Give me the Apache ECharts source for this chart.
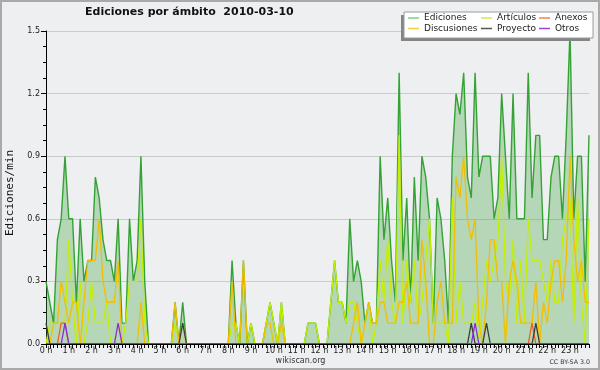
<!DOCTYPE html>
<html>
<head>
<meta charset="utf-8">
<script src="https://cdn.jsdelivr.net/npm/echarts@6/dist/echarts.min.js"></script>
<style>
html,body{margin:0;padding:0;background:#eeeff1;}
#chart{width:600px;height:370px;}
</style>
</head>
<body>
<div id="chart"></div>
<script>
// ---- data (10-minute slots, 0:00 .. 23:50), values in edits/min ----
const hourLabels = ['0 h','1 h','2 h','3 h','4 h','5 h','6 h','7 h','8 h','9 h','10 h','11 h',
  '12 h','13 h','14 h','15 h','16 h','17 h','18 h','19 h','20 h','21 h','22 h','23 h'];
const yTicks = [0, 0.3, 0.6, 0.9, 1.2, 1.5];

const ediciones = [
  0.3,0.2,0.1,0.5,0.6,0.9,0.6,0.6,0.2,0.6,
  0.3,0.4,0.4,0.8,0.7,0.5,0.4,0.4,0.3,0.6,
  0.1,0.1,0.6,0.3,0.4,0.9,0.3,0,0,0,
  0,0,0,0,0.2,0,0.2,0,0,0,
  0,0,0,0,0,0,0,0,0,0.4,
  0.1,0,0.4,0,0.1,0,0,0,0.1,0.2,
  0.1,0,0.2,0,0,0,0,0,0,0.1,
  0.1,0.1,0,0,0,0.2,0.4,0.2,0.2,0.1,
  0.6,0.3,0.4,0.3,0.1,0.2,0.1,0.1,0.9,0.5,
  0.7,0.4,0.2,1.3,0.4,0.7,0.2,0.8,0.4,0.9,
  0.8,0.6,0.1,0.7,0.6,0.4,0.1,0.9,1.2,1.1,
  1.3,0.8,0.7,1.3,0.8,0.9,0.9,0.9,0.6,0.7,
  1.2,0.9,0.6,1.2,0.6,0.6,0.6,1.3,0.7,1.0,
  1.0,0.5,0.5,0.8,0.9,0.9,0.6,1.0,1.5,0.6,
  0.9,0.9,0.3,1.0
];
const articulos = [
  0,0.1,0.1,0.1,0.1,0.1,0.5,0.2,0,0.3,
  0,0.1,0.3,0.1,0.1,0.1,0.2,0,0,0.1,
  0,0.1,0.3,0.3,0.3,0.6,0.1,0,0,0,
  0,0,0,0,0.1,0,0,0,0,0,
  0,0,0,0,0,0,0,0,0,0.1,
  0.1,0,0,0,0.1,0,0,0,0.1,0.2,
  0.1,0,0.2,0,0,0,0,0,0,0.1,
  0.1,0.1,0,0,0,0.2,0.4,0.2,0.2,0.1,
  0.2,0.2,0.1,0,0.1,0.2,0,0.1,0.4,0.2,
  0.5,0.2,0.1,1.0,0.1,0.4,0.2,0.4,0.1,0.2,
  0.4,0.6,0.1,0.1,0.1,0.1,0,0.7,0.1,0.3,
  0.1,0.1,0.1,0.2,0,0.2,0.4,0.3,0.4,0.5,
  0.9,0.3,0.2,0.5,0.1,0.4,0.1,0.6,0.4,0.4,
  0.4,0.3,0.2,0.4,0.2,0.2,0.5,0.6,0.7,0.1,
  0.7,0.2,0,0.6
];
const discusiones = [
  0,0,0.1,0.1,0.3,0.2,0.1,0.2,0.2,0,
  0.2,0.4,0.4,0.4,0.6,0.3,0.2,0.2,0.2,0.4,
  0,0,0,0,0,0.2,0,0,0,0,
  0,0,0,0,0.2,0,0.1,0,0,0,
  0,0,0,0,0,0,0,0,0,0.3,
  0,0,0.4,0,0,0,0,0,0.1,0.1,
  0,0,0.1,0,0,0,0,0,0,0,
  0,0,0,0,0,0,0,0,0,0,
  0,0.1,0.2,0,0.1,0.2,0.1,0.1,0.2,0.2,
  0.1,0.1,0.1,0.2,0.2,0.3,0.1,0.1,0.1,0.5,
  0.3,0,0,0.2,0.3,0.1,0.1,0.1,0.8,0.7,
  0.9,0.6,0.5,0.6,0.1,0,0.2,0.5,0.5,0.3,
  0.3,0,0.3,0.4,0.3,0.1,0.1,0.1,0.1,0.3,
  0,0.2,0.1,0.3,0.4,0.4,0.2,0.4,0.9,0.5,
  0.3,0.4,0.2,0.2
];
// sparse series: [slot index, value]
const anexosSpikes   = [[4,0.1],[5,0.1],[128,0.1]];
const proyectoSpikes = [[0,0.1],[36,0.1],[112,0.1],[116,0.1],[129,0.1]];
const otrosSpikes    = [[5,0.1],[19,0.1],[113,0.1]];

// ---- build ----
const SLOTS = 144;
const categories = [];
for (let h = 0; h < 24; h++) for (let m = 0; m < 60; m += 10) categories.push(h + ':' + (m < 10 ? '0' : '') + m);
function fromSpikes(sp){ const a = new Array(SLOTS).fill(0); sp.forEach(([i,v]) => a[i] = v); return a; }
const anexos = fromSpikes(anexosSpikes);
const proyecto = fromSpikes(proyectoSpikes);
const otros = fromSpikes(otrosSpikes);

const FONT = "'DejaVu Sans', sans-serif";
function lineSeries(name, data, color, extra){
  return Object.assign({
    name, type:'line', data, showSymbol:false, symbol:'none', animation:false,
    lineStyle:{color, width:1.3}, itemStyle:{color}, z:2
  }, extra || {});
}

const legendDefs = [
  {name:'Ediciones',   color:'#84cc84', left:408, top:13.5},
  {name:'Artículos',   color:'#c8ec50', left:481, top:13.5},
  {name:'Anexos',      color:'#f58050', left:539, top:13.5},
  {name:'Discusiones', color:'#f8cc40', left:408, top:24},
  {name:'Proyecto',    color:'#555555', left:481, top:24},
  {name:'Otros',       color:'#9a40e8', left:539, top:24}
];

const chart = echarts.init(document.getElementById('chart'), null, {renderer:'canvas'});
chart.setOption({
  backgroundColor:'#eeeff1',
  animation:false,
  title:{
    text:'Ediciones por ámbito  2010-03-10',
    left:85, top:7, padding:0,
    textStyle:{fontFamily:FONT, fontWeight:'bold', fontSize:11, color:'#111'}
  },
  legend: legendDefs.map(d => ({
    left:d.left, top:d.top, padding:0, orient:'horizontal',
    itemWidth:11, itemHeight:1.5, itemGap:0, icon:'rect',
    textStyle:{fontFamily:FONT, fontSize:9, color:'#222'},
    data:[{name:d.name, icon:'rect', itemStyle:{color:d.color}}],
    selectedMode:false, z:20
  })),
  graphic:[
    {type:'rect', z:-10, silent:true, shape:{x:1,y:1,width:598,height:368},
     style:{fill:'none', stroke:'#a9a9a9', lineWidth:2}},
    {type:'rect', z:15, silent:true, shape:{x:401,y:15,width:189,height:26},
     style:{fill:'#858585'}},
    {type:'rect', z:16, silent:true, shape:{x:404,y:12,width:189,height:26},
     style:{fill:'#ffffff', stroke:'#9a9a9a', lineWidth:1}},
    {type:'text', z:20, silent:true, x:10, y:193, rotation:Math.PI/2,
     style:{text:'Ediciones/min', fontFamily:"'DejaVu Sans Mono', monospace", fontSize:11, fill:'#111', align:'center', verticalAlign:'middle'}},
    {type:'text', z:20, silent:true, x:300.5, y:361,
     style:{text:'wikiscan.org', fontFamily:FONT, fontSize:8, fill:'#333', align:'center', verticalAlign:'middle'}},
    {type:'text', z:20, silent:true, x:590, y:362,
     style:{text:'CC BY-SA 3.0', fontFamily:FONT, fontSize:6.3, fill:'#333', align:'right', verticalAlign:'middle'}}
  ],
  grid:{left:46, right:11, top:31, bottom:26, containLabel:false},
  xAxis:{
    type:'category', data:categories, boundaryGap:false, z:10,
    axisLine:{show:true, lineStyle:{color:'#000', width:1}},
    axisTick:{show:true, interval:0, length:4, lineStyle:{color:'#000'}},
    axisLabel:{
      interval:5, margin:3, fontFamily:FONT, fontSize:8, color:'#222',
      formatter:(v, idx) => hourLabels[Math.floor(idx / 6)]
    },
    splitLine:{show:false}
  },
  yAxis:{
    type:'value', min:yTicks[0], max:yTicks[yTicks.length-1], interval:0.3, z:0,
    axisLine:{show:true, lineStyle:{color:'#000', width:1}},
    axisTick:{show:true, length:5, lineStyle:{color:'#000'}},
    minorTick:{show:true, splitNumber:4, length:3, lineStyle:{color:'#000'}},
    axisLabel:{margin:6, fontFamily:FONT, fontSize:8, color:'#222',
      formatter:v => v.toFixed(1)},
    splitLine:{show:true, lineStyle:{color:'#cbcbcb', width:1}}
  },
  series:[
    lineSeries('Ediciones', ediciones, '#34a234', {
      areaStyle:{color:'rgba(60,160,60,0.45)', origin:'start'},
      lineStyle:{color:'#34a234', width:1.4}
    }),
    lineSeries('Artículos', articulos, '#c4f000'),
    lineSeries('Discusiones', discusiones, '#f2bf00'),
    lineSeries('Anexos', anexos, '#f06020'),
    lineSeries('Proyecto', proyecto, '#3c3c3c'),
    lineSeries('Otros', otros, '#8a2be2')
  ]
});
</script>
</body>
</html>
